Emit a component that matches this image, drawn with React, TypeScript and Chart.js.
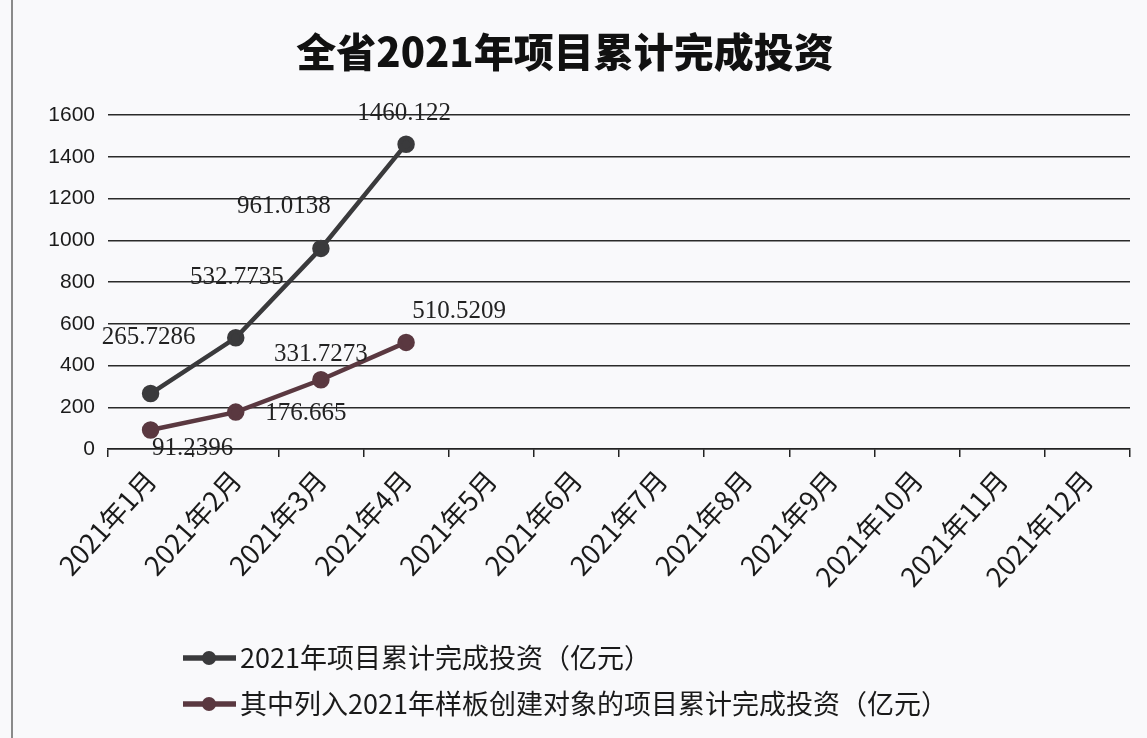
import React, { useEffect, useRef } from "react";
import { Chart, registerables } from "chart.js";

Chart.register(...registerables);

const titleText = "全省2021年项目累计完成投资";
const months = [
  "2021年1月", "2021年2月", "2021年3月", "2021年4月", "2021年5月", "2021年6月",
  "2021年7月", "2021年8月", "2021年9月", "2021年10月", "2021年11月", "2021年12月",
];
const totalInvestment: (number | null)[] = [265.7286, 532.7735, 961.0138, 1460.122, null, null, null, null, null, null, null, null];
const sampleInvestment: (number | null)[] = [91.2396, 176.665, 331.7273, 510.5209, null, null, null, null, null, null, null, null];
const totalLabel = "2021年项目累计完成投资（亿元）";
const sampleLabel = "其中列入2021年样板创建对象的项目累计完成投资（亿元）";
const yTicks = [0, 200, 400, 600, 800, 1000, 1200, 1400, 1600];

// label offsets (style only, in px relative to the point)
const totalLabelOffsets = [[-2, -56], [1, -60], [-37, -42], [-2, -31]];
const sampleLabelOffsets = [[42, 18], [70, 1], [0, -25], [53, -31]];

const totalColor = "#3a3a3c";
const sampleColor = "#5a3840";

const dataLabelPlugin = {
  id: "dataLabels",
  afterDatasetsDraw(chart: any) {
    const ctx = chart.ctx;
    ctx.save();
    ctx.font = "25px 'Liberation Serif', serif";
    ctx.fillStyle = "#222";
    ctx.textAlign = "center";
    ctx.textBaseline = "middle";
    chart.data.datasets.forEach((ds: any, di: number) => {
      const meta = chart.getDatasetMeta(di);
      const offs = di === 0 ? totalLabelOffsets : sampleLabelOffsets;
      ds.data.forEach((v: number | null, i: number) => {
        if (v === null || v === undefined) return;
        const pt = meta.data[i];
        const o = offs[i] || [0, -20];
        ctx.fillText(String(v), pt.x + o[0], pt.y + o[1]);
      });
    });
    ctx.restore();
  },
};

const frameLegendPlugin = {
  id: "frameLegend",
  beforeDraw(chart: any) {
    const ctx = chart.ctx;
    ctx.save();
    ctx.fillStyle = "#f9f9fb";
    ctx.fillRect(0, 0, chart.width, chart.height);
    ctx.strokeStyle = "#8a8a8a";
    ctx.lineWidth = 2;
    ctx.beginPath();
    ctx.moveTo(12, 0);
    ctx.lineTo(12, chart.height);
    ctx.stroke();
    ctx.restore();
  },
  afterDraw(chart: any) {
    const ctx = chart.ctx;
    const items = chart.data.datasets.map((ds: any) => ({ text: ds.label, color: ds.borderColor }));
    ctx.save();
    items.forEach((it: any, i: number) => {
      const y = 658 + i * 46;
      ctx.strokeStyle = it.color;
      ctx.lineWidth = 5.5;
      ctx.beginPath();
      ctx.moveTo(183, y);
      ctx.lineTo(236, y);
      ctx.stroke();
      ctx.fillStyle = it.color;
      ctx.beginPath();
      ctx.arc(209, y, 7, 0, Math.PI * 2);
      ctx.fill();
      ctx.fillStyle = "#1a1a1a";
      ctx.font = "27px 'Noto Sans CJK SC', sans-serif";
      ctx.textAlign = "left";
      ctx.textBaseline = "middle";
      ctx.fillText(it.text, 240, y);
    });
    ctx.restore();
  },
};

export default function App() {
  const ref = useRef<HTMLCanvasElement | null>(null);
  useEffect(() => {
    if (!ref.current) return;
    const chart = new Chart(ref.current, {
      type: "line",
      data: {
        labels: months,
        datasets: [
          {
            label: totalLabel,
            data: totalInvestment,
            borderColor: totalColor,
            backgroundColor: totalColor,
            borderWidth: 4.5,
            pointRadius: 6.5,
            pointHoverRadius: 6.5,
            pointBackgroundColor: totalColor,
            pointBorderColor: totalColor,
            tension: 0,
          },
          {
            label: sampleLabel,
            data: sampleInvestment,
            borderColor: sampleColor,
            backgroundColor: sampleColor,
            borderWidth: 4.5,
            pointRadius: 6.5,
            pointHoverRadius: 6.5,
            pointBackgroundColor: sampleColor,
            pointBorderColor: sampleColor,
            tension: 0,
          },
        ],
      },
      options: {
        animation: false,
        responsive: false,
        maintainAspectRatio: false,
        layout: { padding: { left: 0, right: 17, top: 0, bottom: 129 } },
        plugins: {
          legend: { display: false },
          tooltip: { enabled: false },
          title: {
            display: true,
            text: titleText,
            color: "#111",
            font: { family: "'Noto Sans CJK SC', sans-serif", size: 40, weight: "900" as any },
            padding: { top: 28, bottom: 39 },
          },
        },
        scales: {
          x: {
            type: "category",
            offset: true,
            grid: {
              display: true,
              offset: true,
              drawOnChartArea: false,
              drawTicks: true,
              tickLength: 8,
              color: "#222",
              lineWidth: 1.5,
            },
            border: { display: true, color: "#222", width: 1.5 },
            ticks: {
              color: "#1a1a1a",
              font: { family: "'Noto Sans CJK SC', sans-serif", size: 27 },
              minRotation: 48,
              maxRotation: 48,
              autoSkip: false,
              padding: 7,
            },
            afterFit(scale: any) {
              scale.height = 160;
            },
          },
          y: {
            min: 0,
            max: 1600,
            afterBuildTicks(scale: any) {
              scale.ticks = yTicks.map((v) => ({ value: v }));
            },
            grid: { color: "#2a2a2a", lineWidth: 1.4, drawTicks: false },
            border: { display: false },
            ticks: {
              color: "#1a1a1a",
              font: { family: "'Liberation Sans', sans-serif", size: 21 },
              padding: 13,
              callback: (v: any) => String(v),
            },
            afterFit(scale: any) {
              scale.width = 108;
            },
          },
        },
      },
      plugins: [dataLabelPlugin, frameLegendPlugin],
    });
    return () => chart.destroy();
  }, []);
  return (
    <div style={{ position: "fixed", left: 0, top: 0, width: 1147, height: 738 }}>
      <canvas ref={ref} width={1147} height={738} style={{ width: 1147, height: 738 }} />
    </div>
  );
}
